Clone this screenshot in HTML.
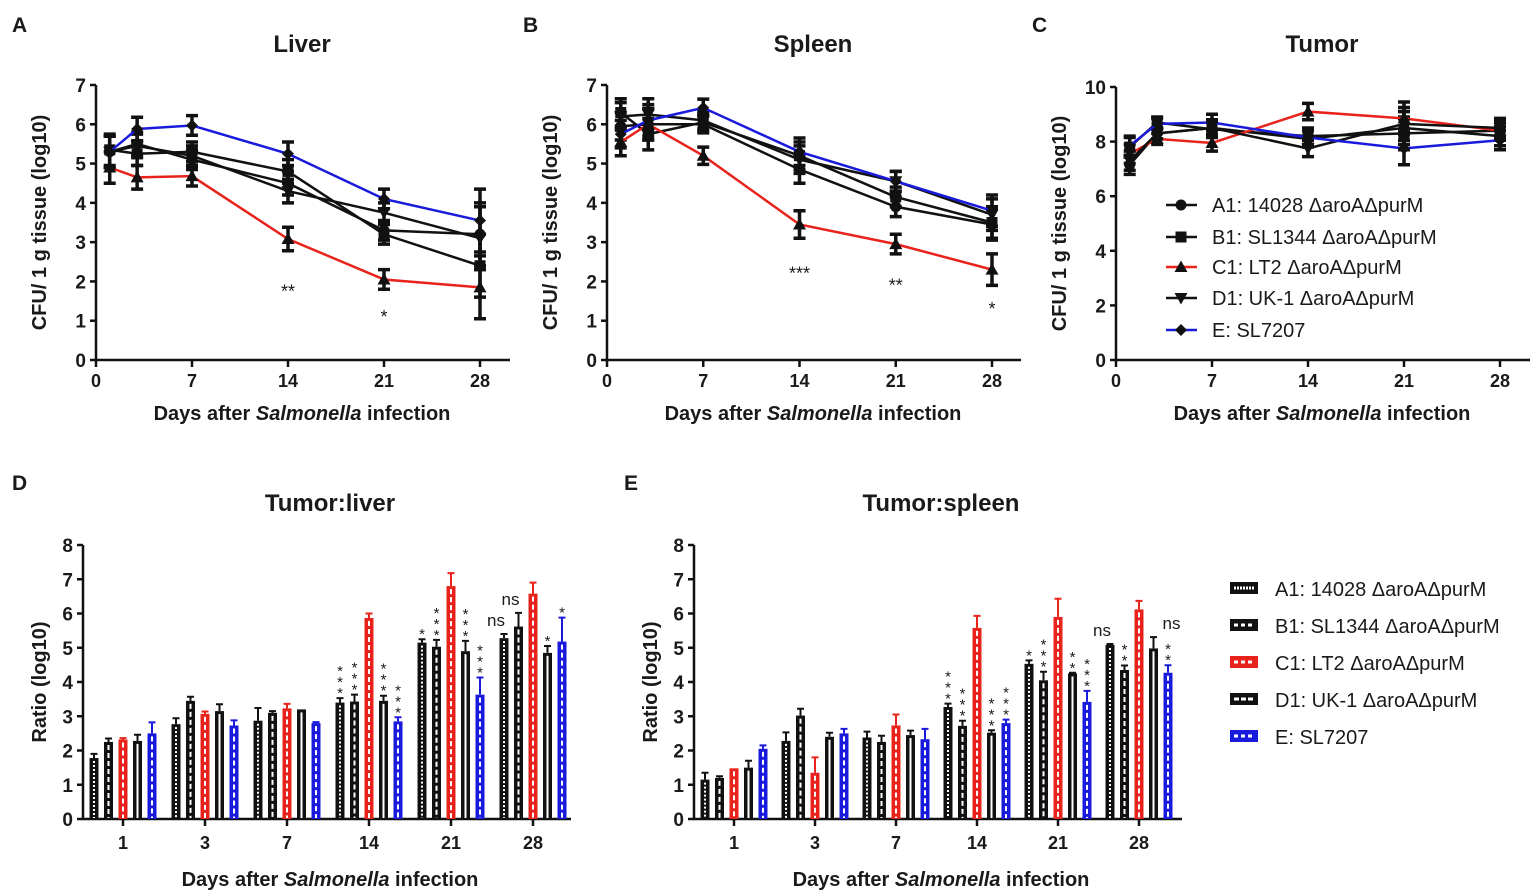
<!DOCTYPE html>
<html><head><meta charset="utf-8">
<style>
html,body{margin:0;padding:0;background:#fff;}
svg{display:block;font-family:"Liberation Sans",Arial,sans-serif;}
.t{font-weight:bold;fill:#1a1a1a;}
.n{font-weight:normal;fill:#1a1a1a;}
</style></head>
<body>
<svg id="fig" width="1535" height="896" viewBox="0 0 1535 896"></svg>
<script>
// ---------- data ----------
const days = [1,3,7,14,21,28];
const xTicks = [0,7,14,21,28];
const seriesNames = ["A1: 14028 \u0394aroA\u0394purM","B1: SL1344 \u0394aroA\u0394purM","C1: LT2 \u0394aroA\u0394purM","D1: UK-1 \u0394aroA\u0394purM","E: SL7207"];
const seriesColors = ["#111","#111","#e8231c","#111","#1a1adc"];
const markers = ["circle","square","tri","itri","diamond"];

const liverA1 = [5.3,5.5,5.1,4.5,3.3,3.2];
const liverB1 = [5.35,5.25,5.3,4.8,3.2,2.4];
const liverC1 = [4.9,4.65,4.68,3.08,2.05,1.85];
const liverD1 = [5.3,5.45,5.2,4.3,3.75,3.1];
const liverE  = [5.3,5.88,5.97,5.25,4.1,3.55];
const liverErr = [0.4,0.3,0.25,0.3,0.25,0.8];
const liverStars = ["","","","**","*",""];
const liverStarVal = [0,0,0,1.8,1.15,0];

const spleenA1 = [5.95,6.0,6.0,4.85,3.9,3.45];
const spleenB1 = [6.3,5.75,6.05,5.2,4.15,3.5];
const spleenC1 = [5.55,6.0,5.2,3.45,2.95,2.3];
const spleenD1 = [6.2,6.25,6.1,5.1,4.55,3.7];
const spleenE  = [5.75,6.1,6.42,5.3,4.55,3.8];
const spleenErr = [0.35,0.4,0.22,0.35,0.25,0.4];
const spleenStars = ["","","","***","**","*"];
const spleenStarVal = [0,0,0,2.25,1.95,1.35];

const tumorA1 = [7.15,8.3,8.5,8.1,8.5,8.2];
const tumorB1 = [7.8,8.7,8.45,8.2,8.3,8.4];
const tumorC1 = [7.55,8.1,7.95,9.1,8.85,8.4];
const tumorD1 = [7.3,8.3,8.5,7.75,8.65,8.5];
const tumorE  = [7.85,8.65,8.7,8.15,7.75,8.05];
const tumorErr = [0.35,0.2,0.3,0.3,0.6,0.35];

const barCats = ["1","3","7","14","21","28"];
const yTicksBar = [0,1,2,3,4,5,6,7,8];
const liverRatio = [
 [1.78,2.77,2.87,3.4,5.15,5.28],
 [2.25,3.45,3.1,3.43,5.03,5.62],
 [2.32,3.07,3.23,5.87,6.8,6.58],
 [2.28,3.15,3.2,3.45,4.9,4.85],
 [2.5,2.73,2.8,2.85,3.63,5.18]];
const liverRatioErr = [
 [0.12,0.17,0.37,0.13,0.1,0.12],
 [0.1,0.12,0.05,0.2,0.2,0.4],
 [0.04,0.07,0.13,0.13,0.38,0.32],
 [0.18,0.2,0,0.15,0.3,0.2],
 [0.32,0.15,0.03,0.12,0.5,0.7]];
const liverRatioSig = [
 ["","","","***","*","ns"],
 ["","","","***","***","ns"],
 ["","","","","",""],
 ["","","","***","***","*"],
 ["","","","***","***","*"]];

const spleenRatio = [
 [1.15,2.28,2.38,3.27,4.53,5.08],
 [1.2,3.02,2.25,2.72,4.05,4.35],
 [1.48,1.35,2.73,5.58,5.9,6.12],
 [1.5,2.4,2.45,2.52,4.25,4.98],
 [2.05,2.5,2.33,2.8,3.42,4.27]];
const spleenRatioErr = [
 [0.2,0.25,0.17,0.1,0.1,0.03],
 [0.05,0.2,0.18,0.15,0.25,0.13],
 [0,0.45,0.32,0.35,0.53,0.25],
 [0.2,0.12,0.13,0.07,0.02,0.33],
 [0.1,0.13,0.3,0.1,0.32,0.22]];
const spleenRatioSig = [
 ["","","","***","*","ns"],
 ["","","","***","***","**"],
 ["","","","","",""],
 ["","","","***","**","ns"],
 ["","","","***","***","**"]];

// ---------- helpers ----------
const NS="http://www.w3.org/2000/svg";
const svg=document.getElementById('fig');
function el(tag,attrs,parent){const e=document.createElementNS(NS,tag);for(const k in attrs)e.setAttribute(k,attrs[k]);(parent||svg).appendChild(e);return e;}
function txt(x,y,s,size,parent,anchor,extra,cls){const t=el('text',Object.assign({x:x,y:y,'font-size':size,'text-anchor':anchor||'middle',class:cls||'t'},extra||{}),parent);t.textContent=s;return t;}

function marker(g,type,x,y){
  let m;
  if(type==='circle') m=el('circle',{cx:x,cy:y,r:5.5,fill:'#111'},g);
  else if(type==='square') m=el('rect',{x:x-5.5,y:y-5.5,width:11,height:11,fill:'#111'},g);
  else if(type==='tri') m=el('polygon',{points:`${x},${y-6.5} ${x-6.5},${y+5} ${x+6.5},${y+5}`,fill:'#111'},g);
  else if(type==='itri') m=el('polygon',{points:`${x},${y+6.5} ${x-6.5},${y-5} ${x+6.5},${y-5}`,fill:'#111'},g);
  else m=el('polygon',{points:`${x},${y-6} ${x+6},${y} ${x},${y+6} ${x-6},${y}`,fill:'#111'},g);
  
  
}

function linePanel(opts){
  const g=el('g',{});
  
  
  const xs=d=>opts.x0+d*(opts.x28-opts.x0)/28;
  const ys=v=>opts.yb-(v/opts.ymax)*(opts.yb-opts.yt);
  const ax=el('path',{d:`M${opts.x0},${opts.yt} V${opts.yb} H${opts.x0+414}`,stroke:'#111','stroke-width':2.5,fill:'none'},g);
  
  opts.yTicks.forEach(v=>{
    el('line',{x1:opts.x0-6,x2:opts.x0,y1:ys(v),y2:ys(v),stroke:'#111','stroke-width':2.5},g);
    const t=txt(opts.x0-10,ys(v)+7,String(v),19,g,'end');
    
  });
  xTicks.forEach(d=>{
    el('line',{x1:xs(d),x2:xs(d),y1:opts.yb,y2:opts.yb+7,stroke:'#111','stroke-width':2.5},g);
    const t=txt(xs(d),opts.yb+27,String(d),18,g);
    
  });
  opts.series.forEach((s,i)=>{
    const sg=el('g',{},g);
    
    
    s.forEach((v,j)=>{
      const x=xs(days[j]),e=opts.err[j];
      el('path',{d:`M${x},${ys(v-e)} V${ys(v+e)} M${x-6},${ys(v-e)} H${x+6} M${x-6},${ys(v+e)} H${x+6}`,stroke:'#111','stroke-width':3.5,fill:'none'},sg);
    });
    const p=el('polyline',{points:s.map((v,j)=>xs(days[j])+','+ys(v)).join(' '),fill:'none',stroke:seriesColors[i],'stroke-width':2.5},sg);
    
    s.forEach((v,j)=>marker(sg,markers[i],xs(days[j]),ys(v)));
  });
  if(opts.stars){opts.stars.forEach((s,j)=>{if(s){const t=txt(xs(days[j]),ys(opts.starVal[j])+8,s,18,g,'middle',{},'n');}});}
  const tt=txt(opts.x0+206,52,opts.title,24,g);
  const yl=txt(0,0,'CFU/ 1 g tissue (log10)',20,g,'middle',{transform:`translate(${opts.x0-50},${(opts.yt+opts.yb)/2}) rotate(-90)`});
  
  const xl=el('text',{x:opts.x0+206,y:420,'font-size':20,'text-anchor':'middle',class:'t'},g);
  xl.innerHTML='Days after <tspan font-style="italic">Salmonella</tspan> infection';
  
  const L=txt(opts.x0-84,32,opts.letter,21,g,'start');
}

linePanel({name:'liver-chart',title:'Liver',letter:'A',x0:96,x28:480,yb:360,yt:85,ymax:7,yTicks:[0,1,2,3,4,5,6,7],
  series:[liverA1,liverB1,liverC1,liverD1,liverE],err:liverErr,stars:liverStars,starVal:liverStarVal});
linePanel({name:'spleen-chart',title:'Spleen',letter:'B',x0:607,x28:992,yb:360,yt:85,ymax:7,yTicks:[0,1,2,3,4,5,6,7],
  series:[spleenA1,spleenB1,spleenC1,spleenD1,spleenE],err:spleenErr,stars:spleenStars,starVal:spleenStarVal});
linePanel({name:'tumor-chart',title:'Tumor',letter:'C',x0:1116,x28:1500,yb:360,yt:87,ymax:10,yTicks:[0,2,4,6,8,10],
  series:[tumorA1,tumorB1,tumorC1,tumorD1,tumorE],err:tumorErr});

// legend C
(function(){
  const g=el('g',{});
  const rows=[205,237,267,298,330];
  seriesNames.forEach((n,i)=>{
    const eg=el('g',{},g);
    el('line',{x1:1166,x2:1197,y1:rows[i],y2:rows[i],stroke:seriesColors[i],'stroke-width':2.5},eg);
    marker(eg,markers[i],1181,rows[i]);
    txt(1212,rows[i]+7,n,20,eg,'start',{},'n');
  });
})();

// ---------- bar panels ----------
function barPanel(o){
  const g=el('g',{});
  const yb=819,yt=545;
  const ys=v=>yb-v/8*(yb-yt);
  const xc=i=>o.x1+i*o.step;
  const ax=el('path',{d:`M${o.ax},${yt} V${yb} H${o.ax+488}`,stroke:'#111','stroke-width':2.5,fill:'none'},g);
  
  yTicksBar.forEach(v=>{
    el('line',{x1:o.ax-6,x2:o.ax,y1:ys(v),y2:ys(v),stroke:'#111','stroke-width':2.5},g);
    const t=txt(o.ax-10,ys(v)+7,String(v),19,g,'end');
  });
  barCats.forEach((c,i)=>{
    el('line',{x1:xc(i),x2:xc(i),y1:yb,y2:yb+7,stroke:'#111','stroke-width':2.5},g);
    const t=txt(xc(i),yb+30,c,18,g);
  });
  o.data.forEach((arr,s)=>{
    arr.forEach((v,i)=>{
      const x=xc(i)+(s-2)*14.5, w=9, col=seriesColors[s];
      const bg=el('g',{},g);
      const e=o.err[s][i];
      if(e>0){
        el('path',{d:`M${x},${ys(v)} V${ys(v+e)} M${x-3.5},${ys(v+e)} H${x+3.5}`,stroke:col,'stroke-width':2},bg);
      }
      el('rect',{x:x-w/2,y:ys(v),width:w,height:yb-ys(v),fill:col},bg);
      el('line',{x1:x,x2:x,y1:ys(v)+3,y2:yb-1,stroke:'#fff','stroke-width':2,'stroke-dasharray':s===0?'2 2':(s===3?'none':'5 3')},bg);
      const sig=o.sig[s][i];
      if(sig){
        const top=ys(v+e)-6;
        if(sig==='ns'){const t=txt(x-(s===3&&o.name==='tumor-spleen-chart'?-18:8),top-2,'ns',17,g,'middle',{},'n');}
        else{for(let k=0;k<sig.length;k++){const t=txt(x,top+6-k*11,'*',15,g,'middle',{},'n');}}
      }
    });
  });
  const tt=txt(o.cx,511,o.title,24,g);
  const yl=txt(0,0,'Ratio (log10)',20,g,'middle',{transform:`translate(${o.ax-37},${(yt+yb)/2}) rotate(-90)`});
  
  const xl=el('text',{x:o.cx,y:886,'font-size':20,'text-anchor':'middle',class:'t'},g);
  xl.innerHTML='Days after <tspan font-style="italic">Salmonella</tspan> infection';
  
  const L=txt(o.letterX,490,o.letter,21,g,'start');
}
barPanel({name:'tumor-liver-chart',title:'Tumor:liver',letter:'D',letterX:12,ax:83,x1:123,step:82,cx:330,data:liverRatio,err:liverRatioErr,sig:liverRatioSig});
barPanel({name:'tumor-spleen-chart',title:'Tumor:spleen',letter:'E',letterX:624,ax:694,x1:734,step:81,cx:941,data:spleenRatio,err:spleenRatioErr,sig:spleenRatioSig});

// legend E
(function(){
  const g=el('g',{});
  const rows=[588,625,662,699,736];
  seriesNames.forEach((n,i)=>{
    const eg=el('g',{},g);
    el('rect',{x:1230,y:rows[i]-6,width:28,height:12,fill:seriesColors[i]},eg);
    el('line',{x1:1234,x2:1254,y1:rows[i],y2:rows[i],stroke:'#fff','stroke-width':3,'stroke-dasharray':i===0?'2 1':(i===3?'5 2':'4 3')},eg);
    txt(1275,rows[i]+8,n,20,eg,'start',{},'n');
  });
})();
</script>
</body></html>
